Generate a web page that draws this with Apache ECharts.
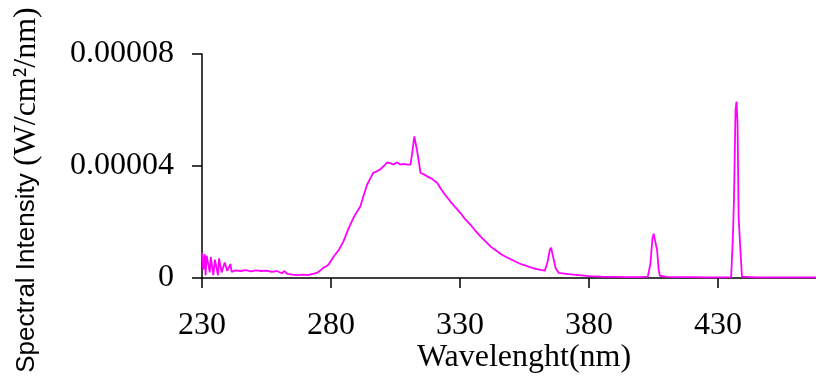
<!DOCTYPE html>
<html>
<head>
<meta charset="utf-8">
<script src="https://cdn.jsdelivr.net/npm/echarts@6/dist/echarts.min.js"></script>
<style>
html,body{margin:0;padding:0;background:#fff;}
#chart{width:816px;height:383px;}
</style>
</head>
<body>
<div id="chart"></div>
<script>
// Wavelength (nm)
var wavelengths = [
  230.0,230.5,231.0,231.4,231.8,232.4,233.0,233.4,234.0,234.4,235.0,235.6,236.2,236.6,237.2,237.6,238.2,238.8,239.3,239.8,240.4,241.0,241.5,
  243,245,247,249,251,253,255,257,259,261,262,263,265,267,269,271,273,274.5,276,277,279,281,283,284.8,286.5,288.7,291.4,292.5,294,295.5,296.4,297.5,299,300.5,301.8,303,304.3,305.6,306.8,308.2,309.5,310.8,311.5,312.3,312.8,313.5,314.7,316,317.3,319,321.2,322.5,324,326.3,328,330.2,332,334.1,336,338,340,341.9,344,345.8,347.7,349.7,351.6,353.5,355.5,357.4,359.3,361.3,362.9,
  364.0,364.8,365.3,366.0,367.1,368.3,372,376,380,385,390,395,400,402.8,403.8,404.6,405.1,405.7,406.4,407.0,407.5,410,415,420,425,430,
  435.1,435.8,436.2,436.8,437.2,437.6,438.0,438.7,439.3,445,455,468
];
// Spectral intensity (W/cm^2/nm)
var intensity = [
  0.9e-5,0.3e-5,0.85e-5,0.1e-5,0.8e-5,0.75e-5,0.2e-5,0.75e-5,0.7e-5,0.1e-5,0.65e-5,0.6e-5,0.1e-5,0.7e-5,0.65e-5,0.2e-5,0.15e-5,0.55e-5,0.5e-5,0.25e-5,0.28e-5,0.5e-5,0.22e-5,
  0.27e-5,0.25e-5,0.28e-5,0.24e-5,0.27e-5,0.25e-5,0.26e-5,0.22e-5,0.25e-5,0.17e-5,0.25e-5,0.15e-5,0.12e-5,0.1e-5,0.12e-5,0.1e-5,0.15e-5,0.18e-5,0.28e-5,0.36e-5,0.47e-5,0.76e-5,1.0e-5,1.3e-5,1.7e-5,2.15e-5,2.56e-5,2.9e-5,3.33e-5,3.6e-5,3.76e-5,3.8e-5,3.87e-5,4.0e-5,4.13e-5,4.1e-5,4.05e-5,4.13e-5,4.05e-5,4.08e-5,4.05e-5,4.05e-5,4.48e-5,5.06e-5,5.0e-5,4.48e-5,3.75e-5,3.7e-5,3.63e-5,3.55e-5,3.39e-5,3.2e-5,3.0e-5,2.73e-5,2.55e-5,2.32e-5,2.1e-5,1.9e-5,1.68e-5,1.48e-5,1.3e-5,1.12e-5,0.98e-5,0.86e-5,0.76e-5,0.67e-5,0.58e-5,0.5e-5,0.44e-5,0.38e-5,0.33e-5,0.29e-5,0.26e-5,
  0.6e-5,1.0e-5,1.08e-5,0.8e-5,0.35e-5,0.18e-5,0.14e-5,0.1e-5,0.07e-5,0.05e-5,0.04e-5,0.03e-5,0.03e-5,0.05e-5,0.5e-5,1.4e-5,1.58e-5,1.3e-5,1.0e-5,0.3e-5,0.08e-5,0.04e-5,0.03e-5,0.03e-5,0.02e-5,0.02e-5,
  0.03e-5,1.5e-5,2.8e-5,6.0e-5,6.3e-5,5.5e-5,2.2e-5,1.0e-5,0.05e-5,0.02e-5,0.02e-5,0.02e-5
];
var xTicks = [230, 280, 330, 380, 430];
var yTicks = [0, 0.00004, 0.00008];
var xTitle = 'Wavelenght(nm)';

var seriesData = wavelengths.map(function (w, i) { return [w, intensity[i]]; });

var chart = echarts.init(document.getElementById('chart'), null, {renderer: 'canvas'});
var serif = '"Liberation Serif", "Times New Roman", serif';
chart.setOption({
  animation: false,
  backgroundColor: '#fff',
  grid: {left: 202, right: 0, top: 54, bottom: 105, containLabel: false},
  xAxis: {
    type: 'value', min: xTicks[0], max: 468, interval: 50,
    axisLine: {show: true, onZero: false, lineStyle: {color: '#000', width: 1.5}},
    axisTick: {show: true, length: 10, lineStyle: {color: '#000', width: 1.5}},
    splitLine: {show: false},
    axisLabel: {color: '#000', fontFamily: serif, fontSize: 32, margin: 32,
      showMaxLabel: false,
      formatter: function (v) { return xTicks.indexOf(v) >= 0 ? String(v) : ''; }}
  },
  yAxis: {
    type: 'value', min: yTicks[0], max: yTicks[2], interval: 0.00004,
    axisLine: {show: true, lineStyle: {color: '#000', width: 1.5}},
    axisTick: {show: true, length: 10, lineStyle: {color: '#000', width: 1.5}},
    splitLine: {show: false},
    axisLabel: {color: '#000', fontFamily: serif, fontSize: 32, margin: 28,
      formatter: function (v) { return v === 0 ? '0' : v.toFixed(5); }}
  },
  graphic: [
    {type: 'text', x: 524, y: 358, style: {text: xTitle, fontFamily: serif, fontSize: 32, fill: '#000', align: 'center', verticalAlign: 'middle'}},
    {type: 'text', x: 27, y: 190, rotation: Math.PI / 2,
      style: {text: '{a|Spectral Intensity }{b|(W/cm²/nm)}', align: 'center', verticalAlign: 'middle', fill: '#000',
        rich: {a: {fontFamily: '"Liberation Sans", Arial, sans-serif', fontSize: 26, fill: '#000'},
               b: {fontFamily: serif, fontSize: 32, fill: '#000'}}}}
  ],
  series: [{
    type: 'line', data: seriesData, showSymbol: false, symbol: 'none',
    lineStyle: {color: '#FF00FF', width: 1.8}, clip: true
  }]
});
</script>
</body>
</html>
